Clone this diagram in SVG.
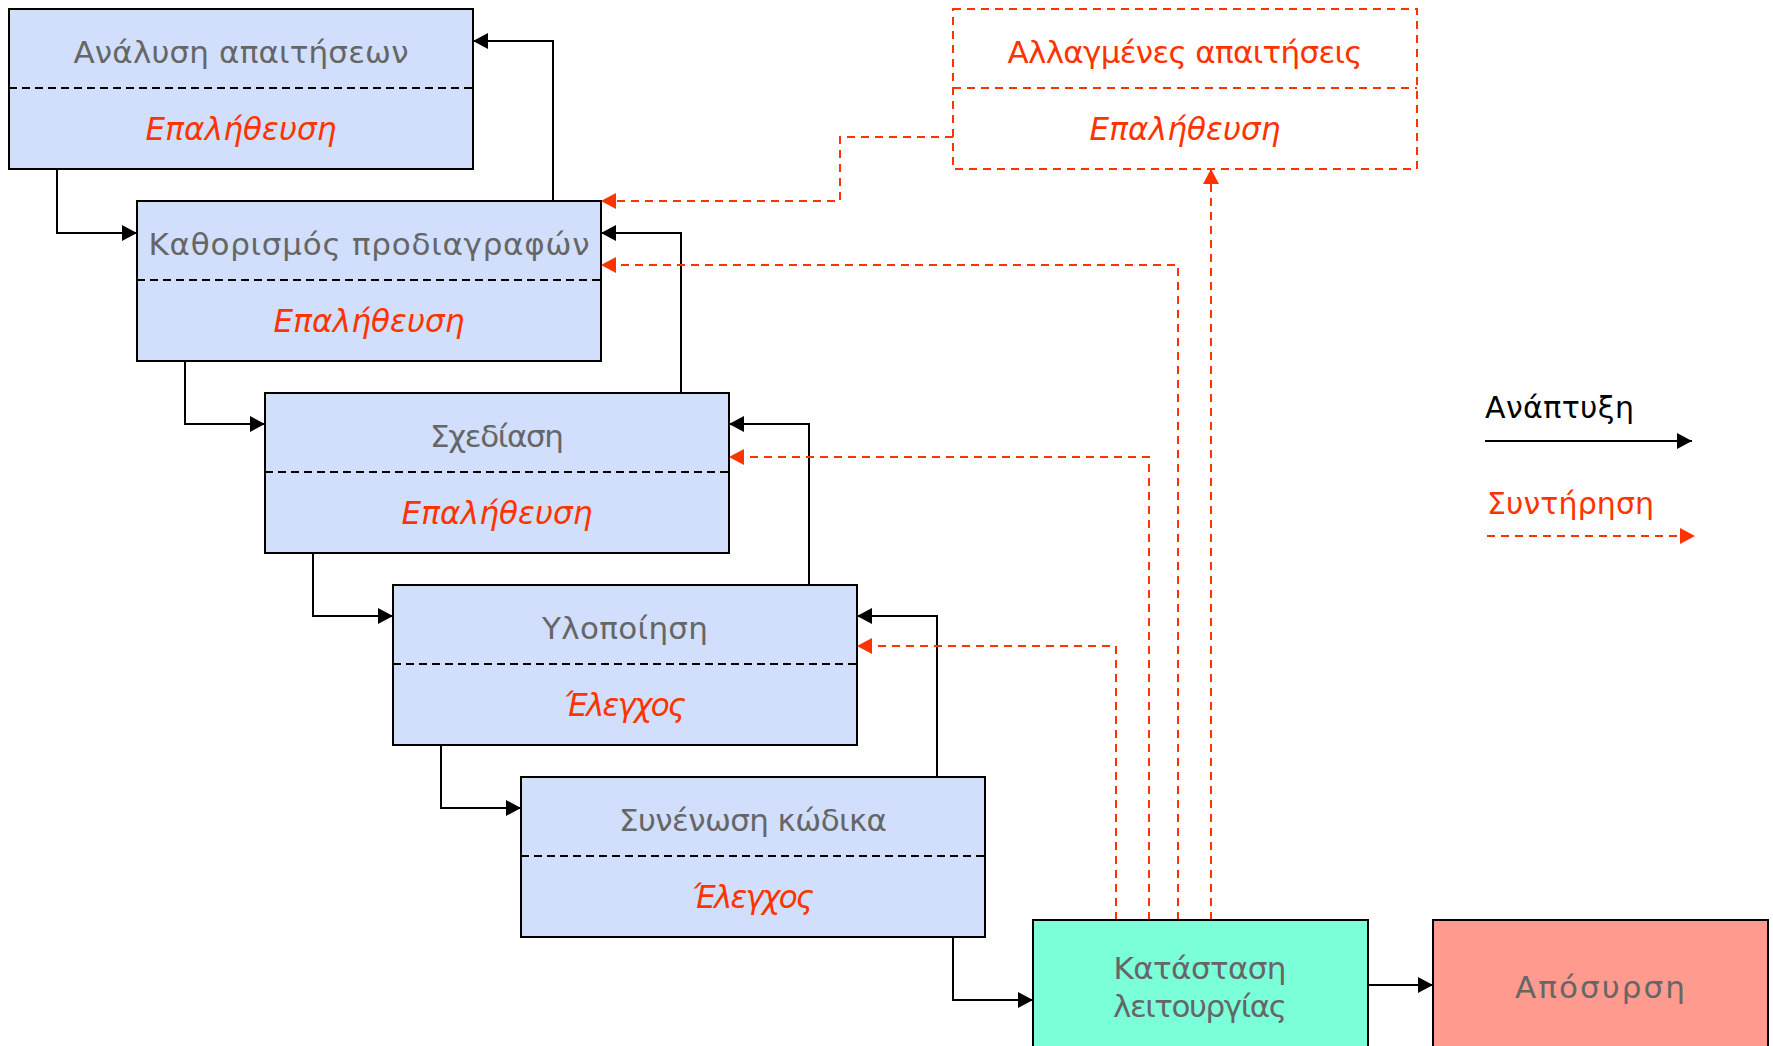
<svg xmlns="http://www.w3.org/2000/svg" width="1773" height="1046" viewBox="0 0 1773 1046">
  <style>
    .box { fill: #d1dffd; stroke: #000; stroke-width: 2; }
    .div { stroke: #000; stroke-width: 2; stroke-dasharray: 8 5; fill: none; }
    .title { font-family: "DejaVu Sans", "Liberation Sans", sans-serif; font-size: 31px; fill: #666666; text-anchor: middle; }
    .check { font-family: "DejaVu Sans", "Liberation Sans", sans-serif; font-size: 31px; font-style: italic; fill: #ff3300; text-anchor: middle; }
    .dev { stroke: #000; stroke-width: 2; fill: none; marker-end: url(#ahBlack); }
    .mnt { stroke: #ff3300; stroke-width: 2; stroke-dasharray: 8 6; fill: none; marker-end: url(#ahRed); }
    .legend { font-family: "DejaVu Sans", "Liberation Sans", sans-serif; font-size: 30px; }
  </style>
  <defs>
    <marker id="ahBlack" markerUnits="userSpaceOnUse" markerWidth="16" markerHeight="16" refX="15" refY="8" orient="auto">
      <path d="M0,0 L15,8 L0,16 z" fill="#000"/>
    </marker>
    <marker id="ahRed" markerUnits="userSpaceOnUse" markerWidth="16" markerHeight="16" refX="15" refY="8" orient="auto">
      <path d="M0,0 L15,8 L0,16 z" fill="#ff3300"/>
    </marker>
  </defs>

  <rect width="1773" height="1046" fill="#fff"/>

  <!-- connectors -->
  <g id="connectors">
    <!-- development: forward steps -->
    <path class="dev" d="M57,169 V233 H137"/>
    <path class="dev" d="M185,361 V424 H265"/>
    <path class="dev" d="M313,553 V616 H393"/>
    <path class="dev" d="M441,745 V808 H521"/>
    <path class="dev" d="M953,937 V1000 H1033"/>
    <path class="dev" d="M1368,985 H1433"/>
    <!-- development: feedback steps -->
    <path class="dev" d="M553,201 V41 H473"/>
    <path class="dev" d="M681,393 V233 H601"/>
    <path class="dev" d="M809,585 V424 H729"/>
    <path class="dev" d="M937,777 V616 H857"/>
    <!-- maintenance -->
    <path class="mnt" d="M1116,920 V646 H857"/>
    <path class="mnt" d="M1149,920 V457 H729"/>
    <path class="mnt" d="M1178,920 V265 H601"/>
    <path class="mnt" d="M1211,920 V169"/>
    <path class="mnt" d="M953,137 H840 V201 H601"/>
  </g>

  <g id="n-analysis">
    <rect class="box" x="9" y="9" width="464" height="160"/>
    <line class="div" x1="9" y1="88" x2="473" y2="88"/>
    <text class="title" x="241" y="63" textLength="335">Ανάλυση απαιτήσεων</text>
    <text class="check" x="241" y="140" textLength="191">Επαλήθευση</text>
  </g>
  <g id="n-spec">
    <rect class="box" x="137" y="201" width="464" height="160"/>
    <line class="div" x1="137" y1="280" x2="601" y2="280"/>
    <text class="title" x="369" y="255" textLength="441">Καθορισμός προδιαγραφών</text>
    <text class="check" x="369" y="332" textLength="191">Επαλήθευση</text>
  </g>
  <g id="n-design">
    <rect class="box" x="265" y="393" width="464" height="160"/>
    <line class="div" x1="265" y1="472" x2="729" y2="472"/>
    <text class="title" x="497" y="447" textLength="134">Σχεδίαση</text>
    <text class="check" x="497" y="524" textLength="191">Επαλήθευση</text>
  </g>
  <g id="n-impl">
    <rect class="box" x="393" y="585" width="464" height="160"/>
    <line class="div" x1="393" y1="664" x2="857" y2="664"/>
    <text class="title" x="625" y="639" textLength="166">Υλοποίηση</text>
    <text class="check" x="625" y="716" textLength="122">Έλεγχος</text>
  </g>
  <g id="n-integration">
    <rect class="box" x="521" y="777" width="464" height="160"/>
    <line class="div" x1="521" y1="856" x2="985" y2="856"/>
    <text class="title" x="753" y="831" textLength="268">Συνένωση κώδικα</text>
    <text class="check" x="753" y="908" textLength="122">Έλεγχος</text>
  </g>
  <g id="n-changed">
    <rect x="953" y="9" width="464" height="160" fill="none" stroke="#ff3300" stroke-width="2" stroke-dasharray="8 6"/>
    <line x1="953" y1="88" x2="1417" y2="88" stroke="#ff3300" stroke-width="2" stroke-dasharray="8 6"/>
    <text class="title" x="1185" y="63" textLength="355" style="fill:#ff3300">Αλλαγμένες απαιτήσεις</text>
    <text class="check" x="1185" y="140" textLength="191">Επαλήθευση</text>
  </g>
  <g id="n-operation">
    <rect x="1033" y="920" width="335" height="140" fill="#7affd9" stroke="#000" stroke-width="2"/>
    <text class="title" x="1200" y="979" textLength="173">Κατάσταση</text>
    <text class="title" x="1200" y="1017" textLength="174">λειτουργίας</text>
  </g>
  <g id="n-retire">
    <rect x="1433" y="920" width="335" height="140" fill="#ff9a8f" stroke="#000" stroke-width="2"/>
    <text class="title" x="1600" y="998" textLength="170">Απόσυρση</text>
  </g>

  <g id="legend">
    <text class="legend" x="1485" y="418" textLength="149" fill="#000">Ανάπτυξη</text>
    <path d="M1485,441 H1692" stroke="#000" stroke-width="2" marker-end="url(#ahBlack)"/>
    <text class="legend" x="1487" y="514" textLength="167" fill="#ff3300">Συντήρηση</text>
    <path d="M1487,536 H1695" stroke="#ff3300" stroke-width="2" stroke-dasharray="8 6" marker-end="url(#ahRed)"/>
  </g>
</svg>
